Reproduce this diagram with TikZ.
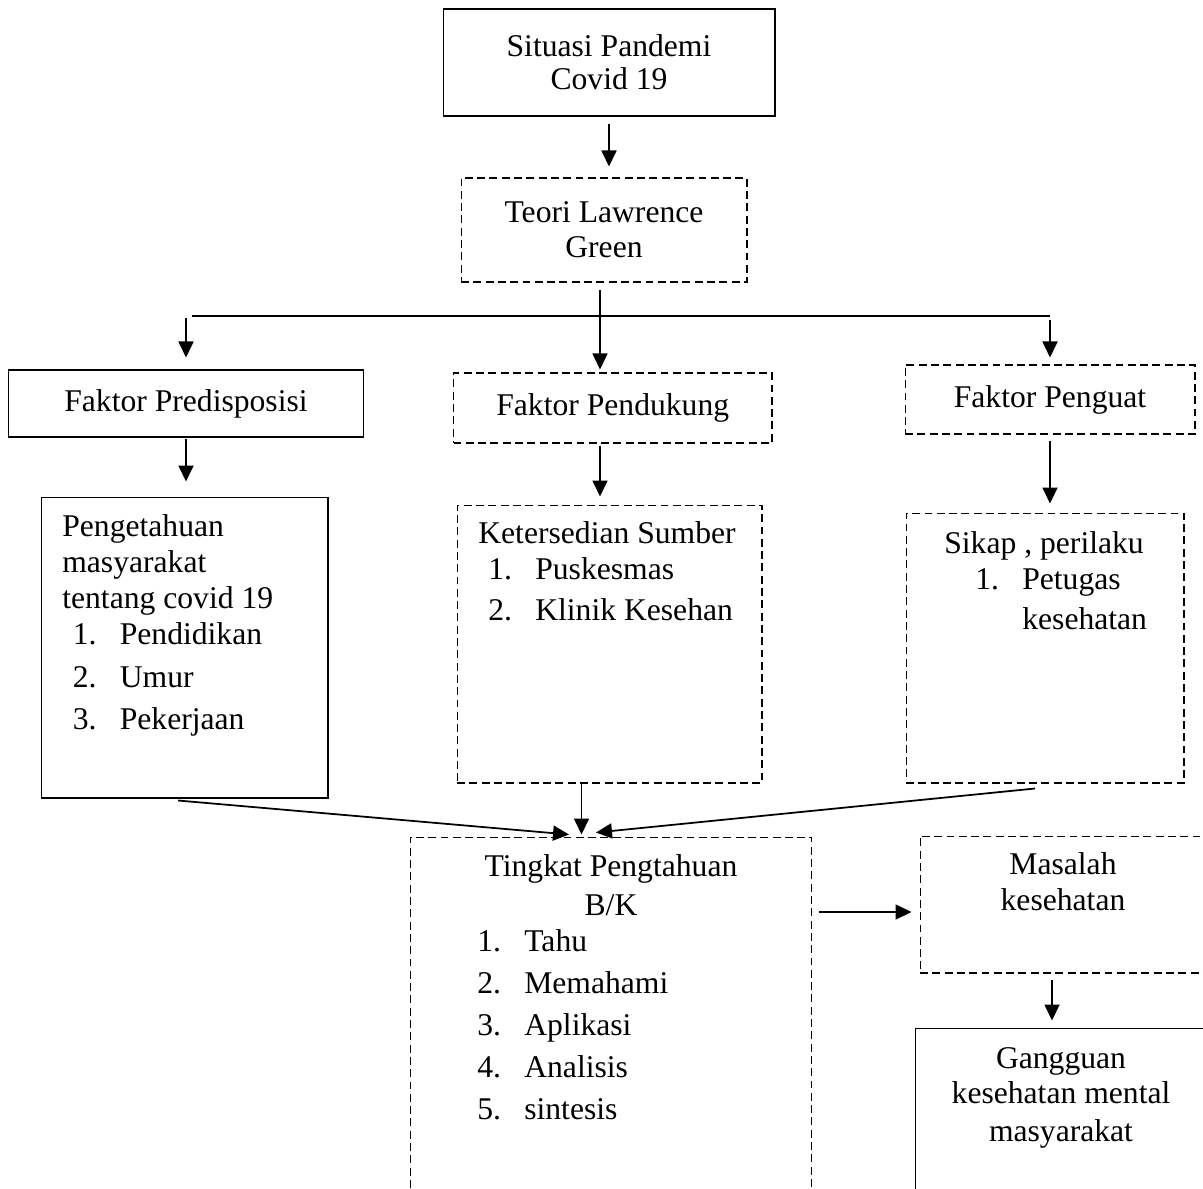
\documentclass[tikz,border=0pt]{standalone}
\usepackage{fontspec}
\setmainfont{Liberation Serif}
\usetikzlibrary{arrows.meta}

\newcommand{\Fs}{\fontsize{18}{20.6}\selectfont}
\newcommand{\Num}[1]{\makebox[0.94cm][l]{#1}}

\begin{document}
\begin{tikzpicture}[x=0.02cm,y=-0.02cm]

  \useasboundingbox (0,0) rectangle (1203,1188);
  \node[anchor=center,inner sep=0] (X) at (0,0) {};

  % node styles
  \tikzstyle{Box}=[
  draw,
  line width=0.6pt,
  font=\Fs,
  align=center,
  inner sep=0,
  shape=rectangle]

  \tikzstyle{Dash}=[Box,dash pattern=on 4.5pt off 2.5pt]

  \tikzstyle{Txt}=[font=\Fs,inner sep=0,anchor=north]

  \tikzstyle{Arr}=[line width=1pt,-{Triangle[length=0.32cm,width=0.3cm]}]

  % boxes
  \draw (X) node[Box, minimum width=6.64cm,minimum height=2.14cm] (S)  at +(609,62.5) {Situasi Pandemi\\[-1.9pt]Covid 19};
  \draw (X) node[Dash,minimum width=5.72cm,minimum height=2.08cm] (T)  at +(604,230)  {Teori Lawrence\\[-0.7pt]Green};

  \draw (X) node[Box, minimum width=7.12cm,minimum height=1.34cm] (F1) at +(186,403.5)  {Faktor Predisposisi};
  \draw (X) node[Dash,minimum width=6.37cm,minimum height=1.40cm] (F2) at +(612.75,408) {Faktor Pendukung};
  \draw (X) node[Dash,minimum width=5.80cm,minimum height=1.38cm] (F3) at +(1050,399.5) {Faktor Penguat};

  \draw (X) node[Box, minimum width=5.74cm,minimum height=6.02cm] (K1) at +(184.5,647.5) {};
  \draw (X) node[Dash,minimum width=6.10cm,minimum height=5.56cm] (K2) at +(609.5,644)   {};
  \draw (X) node[Dash,minimum width=5.56cm,minimum height=5.40cm] (K3) at +(1045,648)    {};

  \draw (X) node[Dash,minimum width=8.04cm,minimum height=8.06cm] (P)  at +(611,1038.5)  {};
  \draw (X) node[Dash,minimum width=5.74cm,minimum height=2.74cm] (M)  at +(1063.5,904.5) {};
  \draw (X) node[Box, minimum width=5.84cm,minimum height=4.24cm] (G)  at +(1061,1134)   {};

  % texts in the tall boxes
  \draw (X) node[Txt,anchor=north west,align=left] (K1t) at +(62,510.6)
  {\strut Pengetahuan\\masyarakat\\tentang covid 19\\
   \hspace*{0.21cm}\Num{1.}Pendidikan\\[3.4pt]
   \hspace*{0.21cm}\Num{2.}Umur\\[3.4pt]
   \hspace*{0.21cm}\Num{3.}Pekerjaan};
  \draw (X) node[Txt,anchor=north west,align=left] (K2t) at +(478,517.6)
  {\strut Ketersedian Sumber\\
   \hspace*{0.2cm}\Num{1.}Puskesmas\\[2.6pt]
   \hspace*{0.2cm}\Num{2.}Klinik Kesehan};
  \draw (X) node[Txt,anchor=north west,align=left] (K3t) at +(944,527.6)
  {\strut Sikap , perilaku\\
   \hspace*{0.62cm}\Num{1.}Petugas\\[2pt]
   \hspace*{1.56cm}kesehatan};

  \draw (X) node[Txt,align=center] (Pt) at +(611,850.6) {\strut Tingkat Pengtahuan\\[1.5pt]B/K};
  \draw (X) node[Txt,anchor=north west,align=left] (Pl) at +(477,925.6)
  {\strut\Num{1.}Tahu\\[3.4pt]\Num{2.}Memahami\\[3.4pt]\Num{3.}Aplikasi\\[3.4pt]
   \Num{4.}Analisis\\[3.4pt]\Num{5.}sintesis};

  \draw (X) node[Txt,align=center] (Mt) at +(1063,848.6) {\strut Masalah\\kesehatan};
  \draw (X) node[Txt,align=center] (Gt) at +(1061,1042.6) {\strut Gangguan\\[-0.6pt]kesehatan mental\\[1pt]masyarakat};

  % branch points
  \coordinate (H)  at (600,316);
  \coordinate (HL) at (192,316);
  \coordinate (HR) at (1050,316);
  \coordinate (Kb) at ([xshift=-0.56cm]K2.south);
  \coordinate (Mw) at ([yshift=-0.15cm]M.west);
  \coordinate (Ms) at ([xshift=-0.23cm]M.south);

  \draw[Arr,shorten <=0.14cm,shorten >=0.22cm] (S.south) -- (S.south |- T.north);
  \draw[Arr,shorten <=0.14cm,shorten >=0.06cm] (T.south -| H) -- (F2.north -| H);
  \draw[line width=1pt] (HL) -- (HR);
  \draw[Arr,shorten <=0.04cm,shorten >=0.24cm] (F1.north |- HL) -- (F1.north);
  \draw[Arr,shorten <=0.08cm,shorten >=0.14cm] (F3.north |- HR) -- (F3.north);

  \draw[Arr,shorten <=0.02cm,shorten >=0.30cm] (F1.south) -- (F1.south |- K1.north);
  \draw[Arr,shorten <=0.04cm,shorten >=0.16cm] (F2.south -| H) -- (K2.north -| H);
  \draw[Arr,shorten <=0.12cm,shorten >=0.18cm] (F3.south) -- (F3.south |- K3.north);

  \draw[Arr] ([xshift=-0.13cm,yshift=-0.04cm]K1.south) -- ([xshift=-0.84cm,yshift=0.04cm]P.north);
  \draw[Arr,shorten >=0.04cm] (Kb) -- (Kb |- P.north);
  \draw[Arr] ([xshift=-0.2cm,yshift=-0.1cm]K3.south) -- ([xshift=-0.3cm,yshift=0.08cm]P.north);

  \draw[Arr,shorten <=0.14cm,shorten >=0.16cm] (P.east |- Mw) -- (Mw);
  \draw[Arr,shorten <=0.12cm,shorten >=0.14cm] (Ms) -- (Ms |- G.north);

\end{tikzpicture}
\end{document}
